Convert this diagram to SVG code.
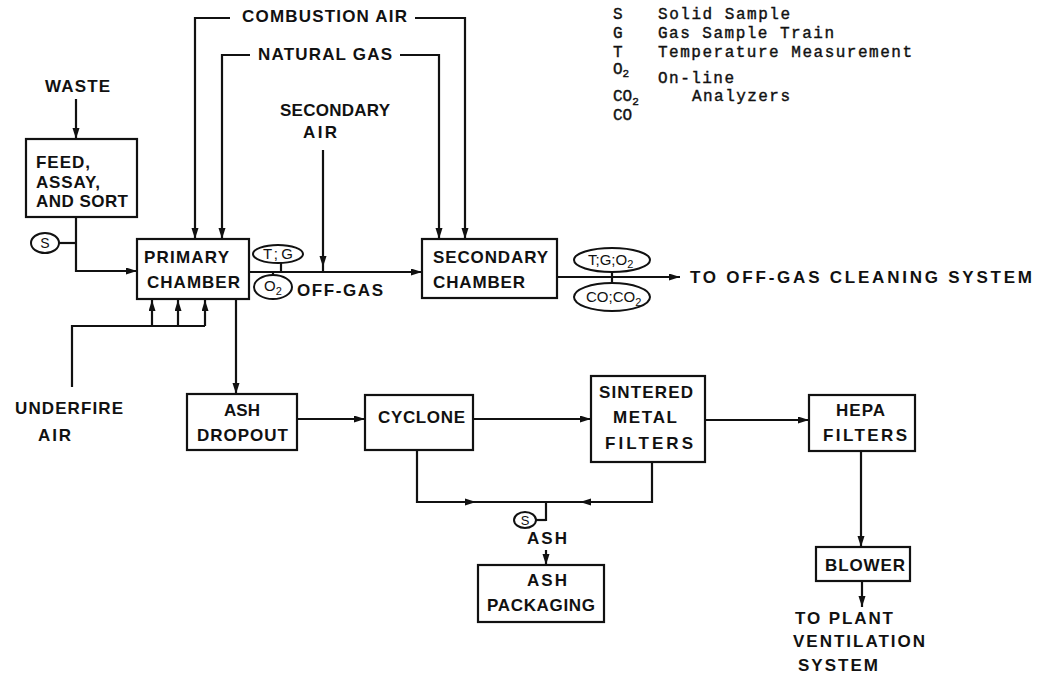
<svg xmlns="http://www.w3.org/2000/svg" xmlns:xlink="http://www.w3.org/1999/xlink" width="1039" height="679" viewBox="0 0 1039 679">
  <defs>
    <style>
      .box { fill: none; stroke: #111; stroke-width: 2.2; }
      .ln { fill: none; stroke: #111; stroke-width: 2.2; }
      .ell { fill: #fff; stroke: #111; stroke-width: 2; }
      .lbl { font-family: "Liberation Sans", Arial, sans-serif; font-weight: bold; font-size: 17px; fill: #111; }
      .sm { font-family: "Liberation Sans", Arial, sans-serif; font-size: 15px; fill: #111; }
      .sub { font-size: 11px; }
      .leg { font-family: "Liberation Mono", "Courier New", monospace; font-size: 16px; fill: #111; stroke: #111; stroke-width: 0.4; }
      .ah { fill: #111; }
    </style>
    <marker id="arr" markerUnits="userSpaceOnUse" markerWidth="12" markerHeight="8" refX="11" refY="3.5" orient="auto">
      <path d="M0,0 L11,3.5 L0,7 z" fill="#111"/>
    </marker>
    <path id="ah" d="M0,0 L-11,-3.5 L-11,3.5 z"/>
  </defs>
  <rect x="0" y="0" width="1039" height="679" fill="#fff"/>

  <!-- Legend -->
  <g id="legend" class="leg">
    <text x="613" y="19">S</text>
    <text x="658" y="19" textLength="132">Solid Sample</text>
    <text x="613" y="38">G</text>
    <text x="658" y="38" textLength="176">Gas Sample Train</text>
    <text x="613" y="57">T</text>
    <text x="658" y="57" textLength="254">Temperature Measurement</text>
    <text x="613" y="74">O<tspan class="sub" dy="3">2</tspan></text>
    <text x="658" y="83" textLength="76">On-line</text>
    <text x="613" y="101">CO<tspan class="sub" dy="4">2</tspan></text>
    <text x="692" y="101" textLength="98">Analyzers</text>
    <text x="613" y="120">CO</text>
  </g>

  <!-- Connectors -->
  <g id="connectors">
    <path class="ln" d="M230,18 H195 V239" marker-end="url(#arr)"/>
    <path class="ln" d="M415,18 H465 V239" marker-end="url(#arr)"/>
    <path class="ln" d="M250,55 H222 V239" marker-end="url(#arr)"/>
    <path class="ln" d="M400,55 H439 V239" marker-end="url(#arr)"/>
    <path class="ln" d="M76,99 V139" marker-end="url(#arr)"/>
    <path class="ln" d="M76,217 V271 H137" marker-end="url(#arr)"/>
    <path class="ln" d="M59,243 H76"/>
    <path class="ln" d="M249,272 H422" marker-end="url(#arr)"/>
    <path class="ln" d="M323,150 V272"/>
    <use href="#ah" class="ah" transform="translate(323,267) rotate(90)"/>
    <path class="ln" d="M281,263 V272"/>
    <path class="ln" d="M273,272 V275"/>
    <path class="ln" d="M72,387 V326 H205"/>
    <path class="ln" d="M152,326 V300" marker-end="url(#arr)"/>
    <path class="ln" d="M178,326 V300" marker-end="url(#arr)"/>
    <path class="ln" d="M205,326 V300" marker-end="url(#arr)"/>
    <path class="ln" d="M236,299 V394" marker-end="url(#arr)"/>
    <path class="ln" d="M297,419 H365" marker-end="url(#arr)"/>
    <path class="ln" d="M473,419 H591" marker-end="url(#arr)"/>
    <path class="ln" d="M705,420 H809" marker-end="url(#arr)"/>
    <path class="ln" d="M861,451 V547" marker-end="url(#arr)"/>
    <path class="ln" d="M862,581 V607" marker-end="url(#arr)"/>
    <path class="ln" d="M417,450 V502 H652 V462"/>
    <use href="#ah" class="ah" transform="translate(476,502)"/>
    <use href="#ah" class="ah" transform="translate(580,502) rotate(180)"/>
    <path class="ln" d="M546,502 V521"/>
    <path class="ln" d="M536,520 H546"/>
    <path class="ln" d="M546,550 V565" marker-end="url(#arr)"/>
    <path class="ln" d="M557,277 H680" marker-end="url(#arr)"/>
    <path class="ln" d="M612,270 V285"/>
  </g>

  <!-- Source labels -->
  <g id="combustion-air" class="lbl"><text x="242" y="22" textLength="165">COMBUSTION AIR</text></g>
  <g id="natural-gas" class="lbl"><text x="258" y="60" textLength="134">NATURAL GAS</text></g>
  <g id="secondary-air" class="lbl">
    <text x="280" y="116" textLength="110">SECONDARY</text>
    <text x="303" y="138" textLength="34">AIR</text>
  </g>
  <g id="waste" class="lbl"><text x="45" y="92" textLength="65">WASTE</text></g>
  <g id="underfire-air" class="lbl">
    <text x="15" y="414" textLength="108">UNDERFIRE</text>
    <text x="38" y="441" textLength="33">AIR</text>
  </g>

  <!-- Nodes -->
  <g id="feed">
    <rect class="box" x="26" y="139" width="111" height="78"/>
    <text class="lbl" x="36" y="168" textLength="54">FEED,</text>
    <text class="lbl" x="36" y="188" textLength="64">ASSAY,</text>
    <text class="lbl" x="36" y="207" textLength="92">AND SORT</text>
  </g>
  <g id="sample-s1">
    <ellipse class="ell" cx="45" cy="243" rx="14" ry="10"/>
    <text class="sm" x="45" y="248" text-anchor="middle" style="font-size:14px">S</text>
  </g>
  <g id="primary-chamber">
    <rect class="box" x="137" y="239" width="112" height="60"/>
    <text class="lbl" x="144" y="263" textLength="85">PRIMARY</text>
    <text class="lbl" x="147" y="288" textLength="93">CHAMBER</text>
  </g>
  <g id="tg-primary">
    <ellipse class="ell" cx="278" cy="254" rx="25" ry="9"/>
    <text class="sm" x="263" y="259" textLength="30">T;G</text>
  </g>
  <g id="o2-primary">
    <ellipse class="ell" cx="273" cy="287" rx="19" ry="12"/>
    <text class="sm" x="264" y="291">O<tspan class="sub" dy="4">2</tspan></text>
  </g>
  <g id="off-gas" class="lbl"><text x="297" y="296" textLength="86">OFF-GAS</text></g>
  <g id="secondary-chamber">
    <rect class="box" x="422" y="239" width="135" height="59"/>
    <text class="lbl" x="433" y="263" textLength="115">SECONDARY</text>
    <text class="lbl" x="433" y="288" textLength="92">CHAMBER</text>
  </g>
  <g id="tgo2-secondary">
    <ellipse class="ell" cx="612" cy="260" rx="38" ry="12"/>
    <text class="sm" x="588" y="265">T;G;O<tspan class="sub" dy="3">2</tspan></text>
  </g>
  <g id="coco2-secondary">
    <ellipse class="ell" cx="612" cy="297" rx="38" ry="14"/>
    <text class="sm" x="586" y="302">CO;CO<tspan class="sub" dy="4">2</tspan></text>
  </g>
  <g id="to-offgas" class="lbl"><text x="690" y="283" textLength="342">TO  OFF-GAS  CLEANING  SYSTEM</text></g>

  <g id="ash-dropout">
    <rect class="box" x="187" y="394" width="110" height="56"/>
    <text class="lbl" x="242" y="416" text-anchor="middle">ASH</text>
    <text class="lbl" x="197" y="441" textLength="91">DROPOUT</text>
  </g>
  <g id="cyclone">
    <rect class="box" x="365" y="395" width="108" height="55"/>
    <text class="lbl" x="378" y="423" textLength="87">CYCLONE</text>
  </g>
  <g id="sintered">
    <rect class="box" x="591" y="376" width="114" height="86"/>
    <text class="lbl" x="599" y="398" textLength="94">SINTERED</text>
    <text class="lbl" x="613" y="423" textLength="64">METAL</text>
    <text class="lbl" x="605" y="449" textLength="88">FILTERS</text>
  </g>
  <g id="hepa">
    <rect class="box" x="809" y="395" width="106" height="56"/>
    <text class="lbl" x="836" y="416" textLength="49">HEPA</text>
    <text class="lbl" x="823" y="441" textLength="84">FILTERS</text>
  </g>
  <g id="blower">
    <rect class="box" x="816" y="547" width="94" height="34"/>
    <text class="lbl" x="825" y="571" textLength="80">BLOWER</text>
  </g>
  <g id="to-plant" class="lbl">
    <text x="795" y="624" textLength="98">TO PLANT</text>
    <text x="793" y="647" textLength="132">VENTILATION</text>
    <text x="798" y="671" textLength="80">SYSTEM</text>
  </g>
  <g id="sample-s2">
    <ellipse class="ell" cx="525" cy="520" rx="11" ry="8"/>
    <text class="sm" x="525" y="525" text-anchor="middle" style="font-size:13px">S</text>
  </g>
  <g id="ash-label" class="lbl"><text x="527" y="544" textLength="40">ASH</text></g>
  <g id="ash-packaging">
    <rect class="box" x="478" y="565" width="126" height="57"/>
    <text class="lbl" x="527" y="586" textLength="40">ASH</text>
    <text class="lbl" x="487" y="611" textLength="108">PACKAGING</text>
  </g>
</svg>
